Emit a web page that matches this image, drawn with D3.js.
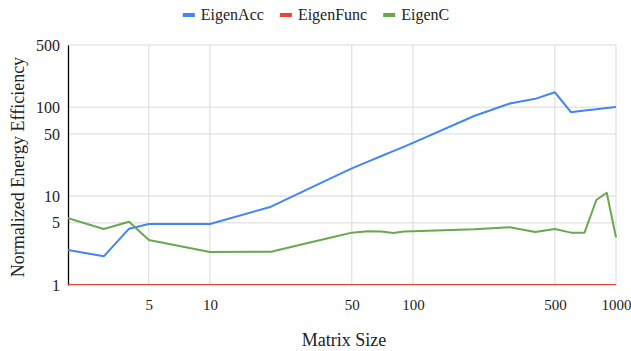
<!DOCTYPE html>
<html>
<head>
<meta charset="utf-8">
<style>
  body { margin: 0; background: #fff; }
  svg text { font-family: "Liberation Serif", "Times New Roman", "DejaVu Serif", serif !important; fill: #222; }
</style>
<script src="https://d3js.org/d3.v7.min.js"></script>
</head>
<body>
<div id="chart"></div>
<script>
// data
var sizes      = [2, 3, 4, 5, 10, 20, 30, 40, 50, 60, 70, 80, 90, 100, 200, 300, 400, 500, 600, 700, 800, 900, 1000];
var eigenAcc   = [2.48, 2.1, 4.3, 4.86, 4.86, 7.6, 11.8, 16.1, 20.5, 24.4, 28.2, 32, 35.7, 39.6, 79.6, 110, 124, 147, 87.7, 91.5, 94.6, 97.7, 100.5];
var eigenFunc  = [1, 1, 1, 1, 1, 1, 1, 1, 1, 1, 1, 1, 1, 1, 1, 1, 1, 1, 1, 1, 1, 1, 1];
var eigenC     = [5.63, 4.27, 5.15, 3.21, 2.35, 2.37, 2.95, 3.44, 3.88, 4.02, 4.0, 3.85, 4.0, 4.02, 4.23, 4.46, 3.95, 4.27, 3.88, 3.88, 9.04, 10.9, 3.44];
var xTicks = [5, 10, 50, 100, 500, 1000];
var yTicks = [1, 5, 10, 50, 100, 500];

var series = [
  {name: "EigenAcc",  values: eigenAcc,  color: "#4285F4"},
  {name: "EigenFunc", values: eigenFunc, color: "#EA4335"},
  {name: "EigenC",    values: eigenC,    color: "#6AA84F"}
];

var W = 631, H = 351;
var margin = {top: 45, right: 15, bottom: 66, left: 68},
    width = W - margin.left - margin.right,
    height = H - margin.top - margin.bottom;

var x = d3.scaleLog().domain([2, 1000]).range([0, width]);
var y = d3.scaleLog().domain([1, 500]).range([height, 0]);

var svg = d3.select("#chart").append("svg")
  .attr("width", W).attr("height", H);

svg.append("defs").append("clipPath").attr("id", "plot")
  .append("rect").attr("x", 0).attr("y", -3).attr("width", width + 3).attr("height", height + 3);

var g = svg.append("g")
  .attr("transform", "translate(" + margin.left + "," + margin.top + ")");

// grid
g.append("g").selectAll("line").data(yTicks).enter().append("line")
  .attr("x1", 0).attr("x2", width)
  .attr("y1", function(d) { return y(d); }).attr("y2", function(d) { return y(d); })
  .attr("stroke", "#d9d9d9").attr("stroke-width", 1);

g.append("g").selectAll("line").data(xTicks).enter().append("line")
  .attr("y1", 0).attr("y2", height)
  .attr("x1", function(d) { return x(d); }).attr("x2", function(d) { return x(d); })
  .attr("stroke", "#d9d9d9").attr("stroke-width", 1);

// axes
var yAxis = d3.axisLeft(y).tickValues(yTicks).tickFormat(d3.format("d")).tickSize(0).tickPadding(8);
g.append("g").call(yAxis)
  .call(function(s) { s.select(".domain").attr("stroke", "#000").attr("stroke-width", 1.3); })
  .selectAll("text").style("font-size", "16px");

var xAxis = d3.axisBottom(x).tickValues(xTicks).tickFormat(d3.format("d")).tickSize(0).tickPadding(14);
g.append("g").attr("transform", "translate(0," + height + ")").call(xAxis)
  .call(function(s) { s.select(".domain").remove(); })
  .selectAll("text").style("font-size", "15px");

// lines
var line = d3.line()
  .x(function(d, i) { return x(sizes[i]); })
  .y(function(d) { return y(d); });

g.append("g").attr("clip-path", "url(#plot)")
  .selectAll(".series").data(series).enter().append("path")
  .attr("class", "series")
  .attr("fill", "none")
  .attr("stroke", function(d) { return d.color; })
  .attr("stroke-width", 2)
  .attr("stroke-linejoin", "round")
  .attr("d", function(d) { return line(d.values); });

// axis titles
svg.append("text")
  .attr("transform", "translate(24,167) rotate(-90)")
  .attr("text-anchor", "middle")
  .style("font-size", "18px")
  .text("Normalized Energy Efficiency");

svg.append("text")
  .attr("x", 344).attr("y", 346)
  .attr("text-anchor", "middle")
  .style("font-size", "18px")
  .text("Matrix Size");

// legend, laid out from measured text widths and centred on the chart
var legend = svg.append("g");
var item = legend.selectAll("g").data(series).enter().append("g");
item.append("rect")
  .attr("x", 0).attr("y", 13).attr("width", 12).attr("height", 4)
  .attr("fill", function(d) { return d.color; });
item.append("text")
  .attr("x", 18).attr("y", 20)
  .style("font-size", "16px")
  .text(function(d) { return d.name; });

var offs = [], tot = 0;
item.each(function() {
  var w = 18 + d3.select(this).select("text").node().getComputedTextLength();
  offs.push(tot);
  tot += w + 16;
});
tot -= 16;
var start = 316 - tot / 2;
item.attr("transform", function(d, i) { return "translate(" + (start + offs[i]) + ",0)"; });
</script>
</body>
</html>
